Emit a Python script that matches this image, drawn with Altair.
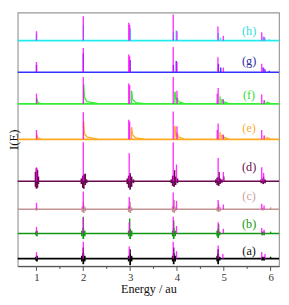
import altair as alt
import pandas as pd

# ---------------- data ----------------
TRACES = ["a", "b", "c", "d", "e", "f", "g", "h"]
OFFSETS = [8, 35, 61, 91, 136, 174, 208, 242]
COLORS = ["#000000", "#119911", "#c49494", "#6b0850", "#ffaa22", "#33ee33", "#3333ff", "#22eeee"]
LABELS = ["(a)", "(b)", "(c)", "(d)", "(e)", "(f)", "(g)", "(h)"]
LABEL_COLORS = ["#111111", "#119911", "#d0a0a0", "#6b1050", "#ffaa33", "#33dd33", "#2a2aa0", "#33dddd"]
LABEL_Y = [16, 45, 75, 106, 148, 184, 220, 252]
LABEL_E = 5.54

MAG_E = {
    "a": [1.0, 2.0, 2.98, 3.92, 3.99, 4.88, 4.98, 5.81, 5.88],
    "b": [1.0, 2.0, 2.98, 3.92, 3.99, 4.88, 4.99, 5.81, 5.86],
    "c": [1.0, 2.0, 2.98, 3.92, 3.99, 4.88, 4.99, 5.81, 5.86],
    "d": [1.0, 2.0, 2.98, 3.92, 3.99, 4.88, 4.99, 5.81, 5.85],
    "e": [1.0, 2.0, 2.97, 2.99, 3.92, 4.0, 4.86, 4.88, 4.99, 5.81, 5.86],
    "f": [1.0, 2.0, 2.97, 2.99, 3.92, 4.0, 4.86, 4.88, 4.99, 5.81, 5.86],
    "g": [1.0, 2.0, 2.97, 2.99, 3.92, 4.0, 4.875, 4.99, 5.81, 5.86],
    "h": [1.0, 2.0, 2.97, 2.99, 3.92, 4.0, 4.875, 4.99, 5.81, 5.86],
}
MAG_H = {
    "a": [7, 18, 13, 18, 8, 14, 5, 7, 5],
    "b": [7, 17, 12, 18, 8, 12, 5, 6, 4],
    "c": [7, 19, 13, 18, 9, 10, 5, 6, 4],
    "d": [15, 42, 30, 42, 18, 25, 10, 15, 9],
    "e": [10, 29, 21, 19, 30, 14, 10, 17, 5, 10, 4],
    "f": [11, 29, 22, 20, 29, 14, 11, 17, 5, 10, 4],
    "g": [11, 26, 19, 17, 27, 11, 16, 5, 9, 4],
    "h": [10, 26, 19, 17, 28, 10, 15, 5, 9, 4],
}

PEAK_E = {
    "a": [2.0, 3.0, 3.93, 4.88, 6.0],
    "b": [2.0, 2.99, 3.93, 4.89, 6.0],
    "c": [2.0, 3.0, 3.94, 4.89, 6.0],
    "d": [2.04, 3.0, 3.95, 4.9, 5.0, 5.85],
    "e": [1.005, 2.005, 3.03, 3.955, 4.005, 4.92, 4.96, 5.03, 5.87, 5.92],
    "f": [1.005, 2.005, 3.03, 3.955, 4.005, 4.92, 4.96, 5.03, 5.87, 5.92],
    "g": [1.0, 2.0, 3.0, 3.925, 3.985, 4.885, 4.935, 5.84, 5.88, 5.97],
    "h": [1.0, 2.0, 3.005, 3.925, 3.985, 4.885, 4.93, 5.84, 5.88, 5.97],
}
PEAK_H = {
    "a": [12, 10, 12, 10, 2],
    "b": [18, 16, 14, 10, 2],
    "c": [8, 8, 10, 6, 2],
    "d": [8, 9, 12, 10, 5, 5],
    "e": [5, 19, 13, 14, 7, 8, 5, 2, 4, 2],
    "f": [6, 21, 14, 13, 7, 8, 5, 2, 4, 2],
    "g": [8, 20, 13, 8, 12, 9, 5, 5, 3, 1.5],
    "h": [7, 17, 13, 9, 11, 8, 3, 4, 3, 1.5],
}

TAILS = {
    "e": [(1.005, 5, 1.03, 1.5), (1.03, 1.5, 1.1, 0.3),
          (2.005, 19, 2.025, 6), (2.025, 6, 2.08, 2.5), (2.08, 2.5, 2.3, 0.5),
          (3.03, 13, 3.05, 5), (3.05, 5, 3.12, 1.5), (3.12, 1.5, 3.3, 0.3),
          (3.955, 14, 3.975, 5), (3.975, 5, 4.005, 4),
          (4.005, 7, 4.03, 2.5), (4.03, 2.5, 4.15, 0.5),
          (4.96, 5, 4.99, 2), (4.99, 2, 5.03, 2), (5.03, 2, 5.1, 0.3),
          (5.92, 2, 6.0, 0.3)],
    "f": [(1.005, 6, 1.03, 1.5), (1.03, 1.5, 1.1, 0.3),
          (2.005, 21, 2.025, 7), (2.025, 7, 2.08, 2.5), (2.08, 2.5, 2.3, 0.5),
          (3.03, 14, 3.05, 5), (3.05, 5, 3.12, 1.5), (3.12, 1.5, 3.3, 0.3),
          (3.955, 13, 3.975, 5), (3.975, 5, 4.005, 4),
          (4.005, 7, 4.03, 2.5), (4.03, 2.5, 4.15, 0.5),
          (4.96, 5, 4.99, 2), (4.99, 2, 5.03, 2), (5.03, 2, 5.1, 0.3),
          (5.92, 2, 6.0, 0.3)],
}

BLOBS = {
    "a": [(0.99, -2, 2), (1.01, -3, 3),
          (1.97, -3, 3), (2.0, -6, 6), (2.03, -3, 3),
          (2.97, -3, 3), (3.0, -7, 5), (3.03, -3, 3),
          (3.91, -3, 3), (3.93, -6, 6), (3.96, -3, 3),
          (4.86, -3, 3), (4.88, -6, 5), (4.91, -2, 2),
          (5.82, -2, 2), (5.86, -2, 2)],
    "b": [(0.99, -2, 2), (1.01, -3, 3),
          (1.97, -3, 3), (2.0, -6, 6), (2.03, -3, 3),
          (2.97, -3, 3), (3.0, -6, 5), (3.03, -3, 3),
          (3.91, -3, 3), (3.93, -6, 6), (3.96, -3, 3),
          (4.86, -3, 3), (4.88, -5, 5), (4.91, -2, 2),
          (5.82, -2, 2), (5.86, -2, 2)],
    "c": [(1.0, -1.5, 1.5),
          (1.98, -3, 3), (2.01, -4, 4), (2.04, -2, 2),
          (2.97, -3, 3), (3.0, -4, 4), (3.03, -2, 2),
          (3.91, -3, 3), (3.94, -4, 4), (3.97, -2, 2),
          (4.86, -2, 2), (4.89, -3, 3), (4.92, -2, 2),
          (5.83, -1.5, 1.5)],
    "d": [(0.98, -6, 10), (1.0, -8, 14), (1.02, -7, 12), (1.04, -3, 5),
          (1.96, -3, 3), (1.99, -7, 6), (2.01, -8, 7), (2.04, -4, 8), (2.07, -2, 2),
          (2.94, -3, 3), (2.97, -7, 6), (3.0, -9, 7), (3.03, -6, 5), (3.07, -2, 2),
          (3.88, -2, 2), (3.91, -5, 6), (3.94, -6, 6), (3.97, -4, 5), (4.01, -2, 3),
          (4.83, -2, 2), (4.86, -4, 4), (4.89, -5, 5), (4.92, -3, 3), (4.96, -1.5, 2),
          (5.80, -2, 2), (5.84, -3, 3), (5.88, -2, 2)],
}

MAJOR_TICKS = [1, 2, 3, 4, 5, 6]
MINOR_TICKS = [1.5, 2.5, 3.5, 4.5, 5.5]
E_DOMAIN = [0.6, 6.18]
Y_DOMAIN = [0, 272]

off = dict(zip(TRACES, OFFSETS))
col = dict(zip(TRACES, COLORS))

base_df = pd.DataFrame({"trace": TRACES, "y0": OFFSETS, "c": COLORS})
mag_df = pd.DataFrame([
    {"e": e, "y0": off[t], "y1": off[t] + h}
    for t in TRACES for e, h in zip(MAG_E[t], MAG_H[t])
])
peak_df = pd.DataFrame([
    {"e": e, "y0": off[t], "y1": off[t] + h, "c": col[t]}
    for t in TRACES for e, h in zip(PEAK_E[t], PEAK_H[t])
])
tail_df = pd.DataFrame([
    {"e": e1, "e2": e2, "y0": off[t] + h1, "y1": off[t] + h2, "c": col[t]}
    for t in TAILS for (e1, h1, e2, h2) in TAILS[t]
])
blob_df = pd.DataFrame([
    {"e": e, "y0": off[t] + lo, "y1": off[t] + hi, "c": col[t]}
    for t in BLOBS for (e, lo, hi) in BLOBS[t]
])
label_df = pd.DataFrame({"e": [LABEL_E] * 8, "y0": LABEL_Y, "txt": LABELS, "c": LABEL_COLORS})
major_df = pd.DataFrame({"e": MAJOR_TICKS})
minor_df = pd.DataFrame({"e": MINOR_TICKS})

W, H = 268, 260
FONT = "Liberation Serif"
xs = alt.Scale(domain=E_DOMAIN, nice=False, zero=False)
ys = alt.Scale(domain=Y_DOMAIN, nice=False, zero=False)
x_axis = alt.Axis(values=MAJOR_TICKS, orient="bottom", title="Energy / au", grid=False,
                  ticks=False, domainColor="#555555", domainWidth=1.2,
                  labelFont=FONT, labelFontSize=11, labelColor="#333333", labelPadding=6,
                  titleFont=FONT, titleFontSize=12.5, titleFontWeight="normal",
                  titleColor="#111111", titlePadding=0)
y_axis = alt.Axis(title="I(E)", labels=False, ticks=False, domain=False, grid=False,
                  titleFont=FONT, titleFontSize=13, titleFontWeight="normal",
                  titleColor="#111111", titleAngle=-90, titleX=-4.5, titleY=H / 2,
                  titleAlign="center", titleBaseline="middle")


def X(f="e"):
    return alt.X(f, type="quantitative", scale=xs, axis=x_axis)


def Y(f="y0"):
    return alt.Y(f, type="quantitative", scale=ys, axis=y_axis)


baselines = alt.Chart(base_df).mark_rule(strokeWidth=1.7).encode(
    x=alt.value(0), x2=alt.value(W), y=Y(), color=alt.Color("c:N", scale=None))
blobs = alt.Chart(blob_df).mark_rule(strokeWidth=1.8).encode(
    x=X(), y=Y(), y2="y1", color=alt.Color("c:N", scale=None))
peaks = alt.Chart(peak_df).mark_rule(strokeWidth=1.4).encode(
    x=X(), y=Y(), y2="y1", color=alt.Color("c:N", scale=None))
tails = alt.Chart(tail_df).mark_rule(strokeWidth=1.3).encode(
    x=X(), x2="e2", y=Y(), y2="y1", color=alt.Color("c:N", scale=None))
sticks = alt.Chart(mag_df).mark_rule(strokeWidth=1.4, color="#ff00ff", opacity=0.8).encode(
    x=X(), y=Y(), y2="y1")
labels = alt.Chart(label_df).mark_text(font=FONT, fontSize=12.5, baseline="middle",
                                       align="center").encode(
    x=X(), y=Y(), text="txt:N", color=alt.Color("c:N", scale=None))
major = alt.Chart(major_df).mark_rule(color="#555555", strokeWidth=1).encode(
    x=X(), y=alt.value(H), y2=alt.value(H + 5))
minor = alt.Chart(minor_df).mark_rule(color="#555555", strokeWidth=1).encode(
    x=X(), y=alt.value(H), y2=alt.value(H + 3))

chart = alt.layer(baselines, blobs, peaks, tails, sticks, labels, major, minor).properties(
    width=W, height=H,
    autosize=alt.AutoSizeParams(type="none"),
    padding={"left": 10, "top": 1, "right": 2, "bottom": 28},
).configure_view(stroke="#999999", strokeWidth=1.2)

chart.save("out.html", embed_options={"renderer": "svg", "actions": False})
